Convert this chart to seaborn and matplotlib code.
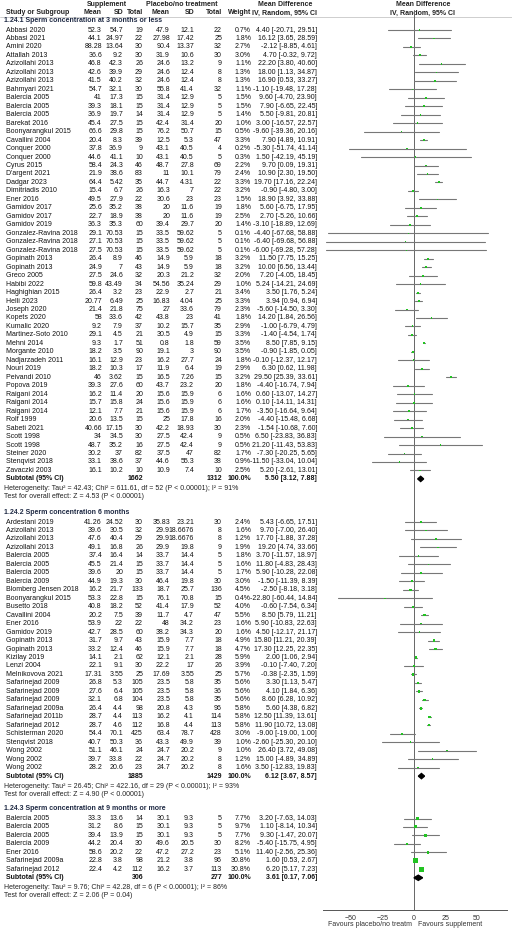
import matplotlib
matplotlib.use("Agg")
import matplotlib.pyplot as plt
import seaborn as sns
import pandas as pd

sns.set_theme(style="white")
plt.rcParams['font.family'] = ['Liberation Sans', 'DejaVu Sans']

# columns: study, sup_mean, sup_sd, sup_n, pl_mean, pl_sd, pl_n, weight, md, lo, hi
group1_rows = [
    ("Abbasi 2020", 52.3, 54.7, 19, 47.9, 12.1, 22, 0.7, 4.40, -20.71, 29.51),
    ("Abbasi 2021", 44.1, 24.97, 22, 27.98, 17.42, 25, 1.8, 16.12, 3.65, 28.59),
    ("Amini 2020", 88.28, 13.64, 30, 90.4, 13.37, 32, 2.7, -2.12, -8.85, 4.61),
    ("Attallah 2013", 36.6, 9.2, 30, 31.9, 10.6, 30, 3.0, 4.70, -0.32, 9.72),
    ("Azizollahi 2013", 46.8, 42.3, 26, 24.6, 13.2, 9, 1.1, 22.20, 3.80, 40.60),
    ("Azizollahi 2013", 42.6, 39.9, 29, 24.6, 12.4, 8, 1.3, 18.00, 1.13, 34.87),
    ("Azizollahi 2013", 41.5, 40.2, 32, 24.6, 12.4, 8, 1.3, 16.90, 0.53, 33.27),
    ("Bahmyari 2021", 54.7, 32.1, 30, 55.8, 41.4, 32, 1.1, -1.10, -19.48, 17.28),
    ("Balercia 2005", 41, 17.3, 15, 31.4, 12.9, 5, 1.5, 9.60, -4.70, 23.90),
    ("Balercia 2005", 39.3, 18.1, 15, 31.4, 12.9, 5, 1.5, 7.90, -6.65, 22.45),
    ("Balercia 2005", 36.9, 19.7, 14, 31.4, 12.9, 5, 1.4, 5.50, -9.81, 20.81),
    ("Barekat 2016", 45.4, 27.5, 15, 42.4, 31.4, 20, 1.0, 3.00, -16.57, 22.57),
    ("Boonyarangkul 2015", 66.6, 29.8, 15, 76.2, 50.7, 15, 0.5, -9.60, -39.36, 20.16),
    ("Cavallini 2004", 20.4, 8.3, 39, 12.5, 5.3, 47, 3.3, 7.90, 4.89, 10.91),
    ("Conquer 2000", 37.8, 36.9, 9, 43.1, 40.5, 4, 0.2, -5.30, -51.74, 41.14),
    ("Conquer 2000", 44.6, 41.1, 10, 43.1, 40.5, 5, 0.3, 1.50, -42.19, 45.19),
    ("Cyrus 2015", 58.4, 24.3, 46, 48.7, 27.8, 69, 2.2, 9.70, 0.09, 19.31),
    ("D'argent 2021", 21.9, 38.6, 83, 11, 10.1, 79, 2.4, 10.90, 2.30, 19.50),
    ("Dadgar 2023", 64.4, 5.42, 35, 44.7, 4.31, 22, 3.3, 19.70, 17.16, 22.24),
    ("Dimitriadis 2010", 15.4, 6.7, 26, 16.3, 7, 22, 3.2, -0.90, -4.80, 3.00),
    ("Ener 2016", 49.5, 27.9, 22, 30.6, 23, 23, 1.5, 18.90, 3.92, 33.88),
    ("Gamidov 2017", 25.6, 35.2, 38, 20, 11.6, 19, 1.8, 5.60, -6.75, 17.95),
    ("Gamidov 2017", 22.7, 18.9, 38, 20, 11.6, 19, 2.5, 2.70, -5.26, 10.66),
    ("Gamidov 2019", 36.3, 35.3, 60, 39.4, 29.7, 20, 1.4, -3.10, -18.89, 12.69),
    ("Gonzalez-Ravina 2018", 29.1, 70.53, 15, 33.5, 59.62, 5, 0.1, -4.40, -67.68, 58.88),
    ("Gonzalez-Ravina 2018", 27.1, 70.53, 15, 33.5, 59.62, 5, 0.1, -6.40, -69.68, 56.88),
    ("Gonzalez-Ravina 2018", 27.5, 70.53, 15, 33.5, 59.62, 5, 0.1, -6.00, -69.28, 57.28),
    ("Gopinath 2013", 26.4, 8.9, 46, 14.9, 5.9, 18, 3.2, 11.50, 7.75, 15.25),
    ("Gopinath 2013", 24.9, 7, 43, 14.9, 5.9, 18, 3.2, 10.00, 6.56, 13.44),
    ("Greco 2005", 27.5, 24.6, 32, 20.3, 21.2, 32, 2.0, 7.20, -4.05, 18.45),
    ("Habibi 2022", 59.8, 43.49, 34, 54.56, 35.24, 29, 1.0, 5.24, -14.21, 24.69),
    ("Haghighian 2015", 26.4, 3.2, 23, 22.9, 2.7, 21, 3.4, 3.50, 1.76, 5.24),
    ("Helli 2023", 20.77, 6.49, 25, 16.83, 4.04, 25, 3.3, 3.94, 0.94, 6.94),
    ("Joseph 2020", 21.4, 21.8, 75, 27, 33.6, 79, 2.3, -5.60, -14.50, 3.30),
    ("Kopets 2020", 58, 33.6, 42, 43.8, 23, 41, 1.8, 14.20, 1.84, 26.56),
    ("Kumalic 2020", 9.2, 7.9, 37, 10.2, 15.7, 35, 2.9, -1.00, -6.79, 4.79),
    ("Martinez-Soto 2010", 29.1, 4.5, 21, 30.5, 4.9, 15, 3.3, -1.40, -4.54, 1.74),
    ("Mehni 2014", 9.3, 1.7, 51, 0.8, 1.8, 59, 3.5, 8.50, 7.85, 9.15),
    ("Morgante 2010", 18.2, 3.5, 90, 19.1, 3, 90, 3.5, -0.90, -1.85, 0.05),
    ("Nadjarzadeh 2011", 16.1, 12.9, 23, 16.2, 27.7, 24, 1.8, -0.10, -12.37, 12.17),
    ("Nouri 2019", 18.2, 10.3, 17, 11.9, 6.4, 19, 2.9, 6.30, 0.62, 11.98),
    ("Peivandi 2010", 46, 3.62, 15, 16.5, 7.26, 15, 3.2, 29.50, 25.39, 33.61),
    ("Popova 2019", 39.3, 27.6, 60, 43.7, 23.2, 20, 1.8, -4.40, -16.74, 7.94),
    ("Raigani 2014", 16.2, 11.4, 20, 15.6, 15.9, 6, 1.6, 0.60, -13.07, 14.27),
    ("Raigani 2014", 15.7, 15.8, 24, 15.6, 15.9, 6, 1.6, 0.10, -14.11, 14.31),
    ("Raigani 2014", 12.1, 7.7, 21, 15.6, 15.9, 6, 1.7, -3.50, -16.64, 9.64),
    ("Rolf 1999", 20.6, 13.5, 15, 25, 17.8, 16, 2.0, -4.40, -15.48, 6.68),
    ("Sabeti 2021", 40.66, 17.15, 30, 42.2, 18.93, 30, 2.3, -1.54, -10.68, 7.60),
    ("Scott 1998", 34, 34.5, 30, 27.5, 42.4, 9, 0.5, 6.50, -23.83, 36.83),
    ("Scott 1998", 48.7, 35.2, 16, 27.5, 42.4, 9, 0.5, 21.20, -11.43, 53.83),
    ("Steiner 2020", 30.2, 37, 82, 37.5, 47, 82, 1.7, -7.30, -20.25, 5.65),
    ("Stenqvist 2018", 33.1, 38.6, 37, 44.6, 55.3, 38, 0.9, -11.50, -33.04, 10.04),
    ("Zavaczki 2003", 16.1, 10.2, 10, 10.9, 7.4, 10, 2.5, 5.20, -2.61, 13.01),
]
group2_rows = [
    ("Ardestani 2019", 41.26, 24.52, 30, 35.83, 23.21, 30, 2.4, 5.43, -6.65, 17.51),
    ("Azizollahi 2013", 39.6, 30.5, 32, 29.9, 18.6676, 8, 1.6, 9.70, -7.00, 26.40),
    ("Azizollahi 2013", 47.6, 40.4, 29, 29.9, 18.6676, 8, 1.2, 17.70, -1.88, 37.28),
    ("Azizollahi 2013", 49.1, 16.8, 26, 29.9, 19.8, 9, 1.9, 19.20, 4.74, 33.66),
    ("Balercia 2005", 37.4, 16.4, 14, 33.7, 14.4, 5, 1.8, 3.70, -11.57, 18.97),
    ("Balercia 2005", 45.5, 21.4, 15, 33.7, 14.4, 5, 1.6, 11.80, -4.83, 28.43),
    ("Balercia 2005", 39.6, 20, 15, 33.7, 14.4, 5, 1.7, 5.90, -10.28, 22.08),
    ("Balercia 2009", 44.9, 19.3, 30, 46.4, 19.8, 30, 3.0, -1.50, -11.39, 8.39),
    ("Blomberg Jensen 2018", 16.2, 21.7, 133, 18.7, 25.7, 136, 4.5, -2.50, -8.18, 3.18),
    ("Boonyarangkul 2015", 53.3, 22.8, 15, 76.1, 70.8, 15, 0.4, -22.80, -60.44, 14.84),
    ("Busetto 2018", 40.8, 18.2, 52, 41.4, 17.9, 52, 4.0, -0.60, -7.54, 6.34),
    ("Cavallini 2004", 20.2, 7.5, 39, 11.7, 4.7, 47, 5.5, 8.50, 5.79, 11.21),
    ("Ener 2016", 53.9, 22, 22, 48, 34.2, 23, 1.6, 5.90, -10.83, 22.63),
    ("Gamidov 2019", 42.7, 28.5, 60, 38.2, 34.3, 20, 1.6, 4.50, -12.17, 21.17),
    ("Gopinath 2013", 31.7, 9.7, 43, 15.9, 7.7, 18, 4.9, 15.80, 11.21, 20.39),
    ("Gopinath 2013", 33.2, 12.4, 46, 15.9, 7.7, 18, 4.7, 17.30, 12.25, 22.35),
    ("Kizilay 2019", 14.1, 2.1, 62, 12.1, 2.1, 28, 5.9, 2.00, 1.06, 2.94),
    ("Lenzi 2004", 22.1, 9.1, 30, 22.2, 17, 26, 3.9, -0.10, -7.40, 7.20),
    ("Melnikovova 2021", 17.31, 3.55, 25, 17.69, 3.55, 25, 5.7, -0.38, -2.35, 1.59),
    ("Safarinejad 2009", 26.8, 5.3, 105, 23.5, 5.8, 35, 5.6, 3.30, 1.13, 5.47),
    ("Safarinejad 2009", 27.6, 6.4, 105, 23.5, 5.8, 36, 5.6, 4.10, 1.84, 6.36),
    ("Safarinejad 2009", 32.1, 6.8, 104, 23.5, 5.8, 35, 5.6, 8.60, 6.28, 10.92),
    ("Safarinejad 2009a", 26.4, 4.4, 98, 20.8, 4.3, 96, 5.8, 5.60, 4.38, 6.82),
    ("Safarinejad 2011b", 28.7, 4.4, 113, 16.2, 4.1, 114, 5.8, 12.50, 11.39, 13.61),
    ("Safarinejad 2012", 28.7, 4.6, 112, 16.8, 4.4, 113, 5.8, 11.90, 10.72, 13.08),
    ("Schisterman 2020", 54.4, 70.1, 425, 63.4, 78.7, 428, 3.0, -9.00, -19.00, 1.00),
    ("Stenqvist 2018", 40.7, 50.3, 36, 43.3, 49.9, 39, 1.0, -2.60, -25.30, 20.10),
    ("Wong 2002", 51.1, 46.1, 24, 24.7, 20.2, 9, 1.0, 26.40, 3.72, 49.08),
    ("Wong 2002", 39.7, 33.8, 22, 24.7, 20.2, 8, 1.2, 15.00, -4.89, 34.89),
    ("Wong 2002", 28.2, 20.6, 23, 24.7, 20.2, 8, 1.6, 3.50, -12.83, 19.83),
]
group3_rows = [
    ("Balercia 2005", 33.3, 13.6, 14, 30.1, 9.3, 5, 7.7, 3.20, -7.63, 14.03),
    ("Balercia 2005", 31.2, 8.6, 15, 30.1, 9.3, 5, 9.7, 1.10, -8.14, 10.34),
    ("Balercia 2005", 39.4, 13.9, 15, 30.1, 9.3, 5, 7.7, 9.30, -1.47, 20.07),
    ("Balercia 2009", 44.2, 20.4, 30, 49.6, 20.5, 30, 8.2, -5.40, -15.75, 4.95),
    ("Ener 2016", 58.6, 20.2, 22, 47.2, 27.2, 23, 5.1, 11.40, -2.56, 25.36),
    ("Safarinejad 2009a", 22.8, 3.8, 98, 21.2, 3.8, 96, 30.8, 1.60, 0.53, 2.67),
    ("Safarinejad 2012", 22.4, 4.2, 112, 16.2, 3.7, 113, 30.8, 6.20, 5.17, 7.23),
]
group_titles = ["1.24.1 Sperm concentration at 3 months or less",
                "1.24.2 Sperm concentration 6 months",
                "1.24.3 Sperm concentration at 9 months or more"]
subtotal_n = [(1662, 1312), (1885, 1429), (306, 277)]
subtotal_md = [(5.50, 3.12, 7.88), (6.12, 3.67, 8.57), (3.61, 0.17, 7.06)]
heterogeneity = [
    "Heterogeneity: Tau\u00b2 = 42.43; Chi\u00b2 = 611.61, df = 52 (P < 0.00001); I\u00b2 = 91%",
    "Heterogeneity: Tau\u00b2 = 26.45; Chi\u00b2 = 422.16, df = 29 (P < 0.00001); I\u00b2 = 93%",
    "Heterogeneity: Tau\u00b2 = 9.76; Chi\u00b2 = 42.28, df = 6 (P < 0.00001); I\u00b2 = 86%"]
overall = ["Test for overall effect: Z = 4.53 (P < 0.00001)",
           "Test for overall effect: Z = 4.90 (P < 0.00001)",
           "Test for overall effect: Z = 2.06 (P = 0.04)"]
x_ticks = [-50, -25, 0, 25, 50]

cols = ["study", "sm", "ssd", "sn", "pm", "psd", "pn", "w", "md", "lo", "hi"]
groups = [group1_rows, group2_rows, group3_rows]
title_y = [20, 512, 808.5]
step = 8.47

W, H = 512, 931
fig = plt.figure(figsize=(W / 100, H / 100), dpi=100)
fig.patch.set_facecolor("white")
tx = fig.add_axes([0, 0, 1, 1])
tx.set_xlim(0, W); tx.set_ylim(H, 0); tx.axis("off")

axis_y = 910
fx = fig.add_axes([323 / W, (H - axis_y) / H, 184 / W, axis_y / H])
fx.set_facecolor("none")
fx.set_ylim(axis_y, 0); fx.set_xlim(-72, 74)
for s in ["left", "right", "top"]:
    fx.spines[s].set_visible(False)
fx.spines["bottom"].set_color("#555555"); fx.spines["bottom"].set_linewidth(0.7)
fx.set_yticks([])
fx.set_xticks(x_ticks)
fx.tick_params(axis="x", labelsize=5, length=2.5, width=0.6, color="#555555", pad=1, colors="#333333")
fx.plot([0, 0], [10, axis_y], color="#666666", lw=0.7, zorder=1)

fs = 5
col_right = [102, 123, 143, 170, 194, 222, 251, 317]
hdr = dict(fontsize=fs, fontweight="bold", color="#222222", va="center")
tx.text(107, 5, "Supplement", ha="center", **hdr)
tx.text(182, 5, "Placebo/no treatment", ha="center", **hdr)
tx.text(285, 5, "Mean Difference", ha="center", **hdr)
tx.text(423, 5, "Mean Difference", ha="center", **hdr)
tx.text(6, 13, "Study or Subgroup", ha="left", **hdr)
for lab, xr in zip(["Mean", "SD", "Total", "Mean", "SD", "Total", "Weight"], col_right[:7]):
    tx.text(xr, 13, lab, ha="right", **hdr)
tx.text(285, 13, "IV, Random, 95% CI", ha="center", **hdr)
tx.text(423, 13, "IV, Random, 95% CI", ha="center", **hdr)
tx.plot([0, W], [17, 17], color="#bbbbbb", lw=0.5)

frames = []
for gi, rows in enumerate(groups):
    df = pd.DataFrame(rows, columns=cols)
    ty = title_y[gi]
    df["y"] = ty + 10 + step * pd.Series(range(len(df)))
    frames.append(df)
    tx.text(4, ty, group_titles[gi], ha="left", va="center", fontsize=fs,
            fontweight="bold", color="#1f2a44")
    for _, r in df.iterrows():
        vals = [r.sm, r.ssd, int(r.sn), r.pm, r.psd, int(r.pn)]
        tx.text(6, r.y, r.study, ha="left", va="center", fontsize=fs, color="#111111")
        for v, xr in zip(vals, col_right[:6]):
            s = str(v) if isinstance(v, int) else ("%g" % v)
            tx.text(xr, r.y, s, ha="right", va="center", fontsize=fs, color="#111111")
        tx.text(col_right[6], r.y, f"{r.w:.1f}%", ha="right", va="center", fontsize=fs, color="#111111")
        tx.text(col_right[7], r.y, f"{r.md:.2f} [{r.lo:.2f}, {r.hi:.2f}]", ha="right",
                va="center", fontsize=fs, color="#111111")
        fx.plot([r.lo, r.hi], [r.y, r.y], color="#777777", lw=0.8, zorder=2)
    sy = df["y"].iloc[-1] + step
    b = dict(fontsize=fs, fontweight="bold", va="center", color="#111111")
    tx.text(6, sy, "Subtotal (95% CI)", ha="left", **b)
    tx.text(col_right[2], sy, str(subtotal_n[gi][0]), ha="right", **b)
    tx.text(col_right[5], sy, str(subtotal_n[gi][1]), ha="right", **b)
    tx.text(col_right[6], sy, "100.0%", ha="right", **b)
    m, lo, hi = subtotal_md[gi]
    tx.text(col_right[7], sy, f"{m:.2f} [{lo:.2f}, {hi:.2f}]", ha="right", **b)
    fx.fill([lo, m, hi, m], [sy, sy - 2.6, sy, sy + 2.6], color="black", zorder=4)
    tx.text(4, sy + 10, heterogeneity[gi], ha="left", va="center", fontsize=fs, color="#222222")
    tx.text(4, sy + 18, overall[gi], ha="left", va="center", fontsize=fs, color="#222222")

alld = pd.concat(frames, ignore_index=True)
sns.scatterplot(data=alld, x="md", y="y", size="w", sizes=(0.8, 13), size_norm=(0, 31),
                marker="s", color="#22c322", edgecolor="none", legend=False, ax=fx, zorder=3)
fx.set_xlabel(""); fx.set_ylabel("")
fx.set_ylim(axis_y, 0); fx.set_xlim(-72, 74)

tx.text(412, 924, "Favours placebo/no treatm", ha="right", va="center", fontsize=fs, color="#333333")
tx.text(418, 924, "Favours supplement", ha="left", va="center", fontsize=fs, color="#333333")

fig.savefig("out.png", dpi=100, facecolor="white")
